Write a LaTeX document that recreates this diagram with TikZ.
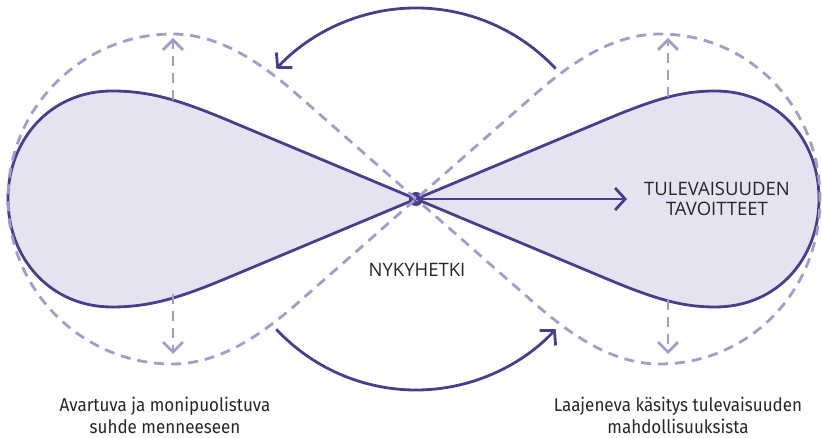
\documentclass[tikz,border=0pt]{standalone}
\usepackage{fontspec}
\setmainfont{Open Sans}
\newfontfamily\notefont[FakeStretch=0.92]{Fira Sans}
\usetikzlibrary{arrows.meta}
\definecolor{purp}{RGB}{74,62,138}
\definecolor{lilac}{RGB}{230,227,240}
\definecolor{haze}{RGB}{163,155,200}
\tikzset{
  lobe/.style  = {draw=purp, fill=lilac, line width=2.8pt, line join=round},
  ghost/.style = {draw=haze, line width=2.8pt, dash pattern=on 10pt off 7pt},
  arr/.style   = {-{Straight Barb[length=10pt,width=22pt,line width=2.8pt]}, draw=purp, line width=2.8pt},
  garr/.style  = {ghost, -{Straight Barb[length=10pt,width=20pt,line width=2.8pt]}},
  title/.style = {font=\fontsize{18.5}{20}\selectfont, text=black!85, align=center, inner sep=0pt},
  note/.style  = {font=\notefont\fontsize{18.5}{22}\selectfont, text=black!85, align=center, inner sep=0pt}
}

\begin{document}
\begin{tikzpicture}[x=1pt,y=1pt]
  \useasboundingbox (0,0) rectangle (822,438);
  \coordinate (now) at (416,239);
  % past and future lobes
  \draw[lobe] (now) -- (232,316) .. controls (180,338) and (150,347) .. (112,347)
    .. controls (50,347) and (8,298) .. (8,239) .. controls (8,180) and (50,131) .. (112,131)
    .. controls (150,131) and (180,140) .. (232,162) -- cycle;
  \draw[lobe] (now) -- (600,316) .. controls (652,338) and (680,347) .. (715,347)
    .. controls (778,347) and (819,298) .. (819,239) .. controls (819,180) and (778,131) .. (715,131)
    .. controls (680,131) and (652,140) .. (600,162) -- cycle;
  \fill[purp] (now) circle (7);
  % widened figure eight
  \draw[ghost] (now) -- (300,341) .. controls (255,381) and (215,404) .. (172,404)
    .. controls (85,404) and (8,333) .. (8,239) .. controls (8,145) and (85,74) .. (172,74)
    .. controls (215,74) and (255,97) .. (300,137) -- (now)
    -- (532,341) .. controls (577,381) and (617,404) .. (660,404)
    .. controls (747,404) and (820,333) .. (820,239) .. controls (820,145) and (747,74) .. (660,74)
    .. controls (617,74) and (577,97) .. (532,137) -- cycle;
  \coordinate (lt0) at (173,338); \coordinate (lt1) at (173,400);
  \coordinate (lb0) at (173,144); \coordinate (lb1) at (173,84);
  \coordinate (rt0) at (668,341); \coordinate (rt1) at (668,400);
  \coordinate (rb0) at (668,138); \coordinate (rb1) at (668,84);
  \draw[garr] (lt0) -- (lt1);
  \draw[garr] (lb0) -- (lb1);
  \draw[garr] (rt0) -- (rt1);
  \draw[garr] (rb0) -- (rb1);
  % turning arrows round the present
  \draw[arr] (now) ++(43:191) arc[start angle=43, end angle=137, radius=191];
  \draw[arr] (now) ++(223:191) arc[start angle=223, end angle=317, radius=191];
  \coordinate (goal) at (627,239);
  \draw[arr] (now) -- (goal);
  \node[title] (goals) at (717,239) {TULEVAISUUDEN\\TAVOITTEET};
  \node[title] (nowlab) at (417,168.5) {NYKYHETKI};
  \node[note, anchor=south] (past) at (165,4) {Avartuva ja monipuolistuva\\suhde menneeseen};
  \node[note, anchor=south] (future) at (678,4) {Laajeneva käsitys tulevaisuuden\\mahdollisuuksista};
\end{tikzpicture}
\end{document}
